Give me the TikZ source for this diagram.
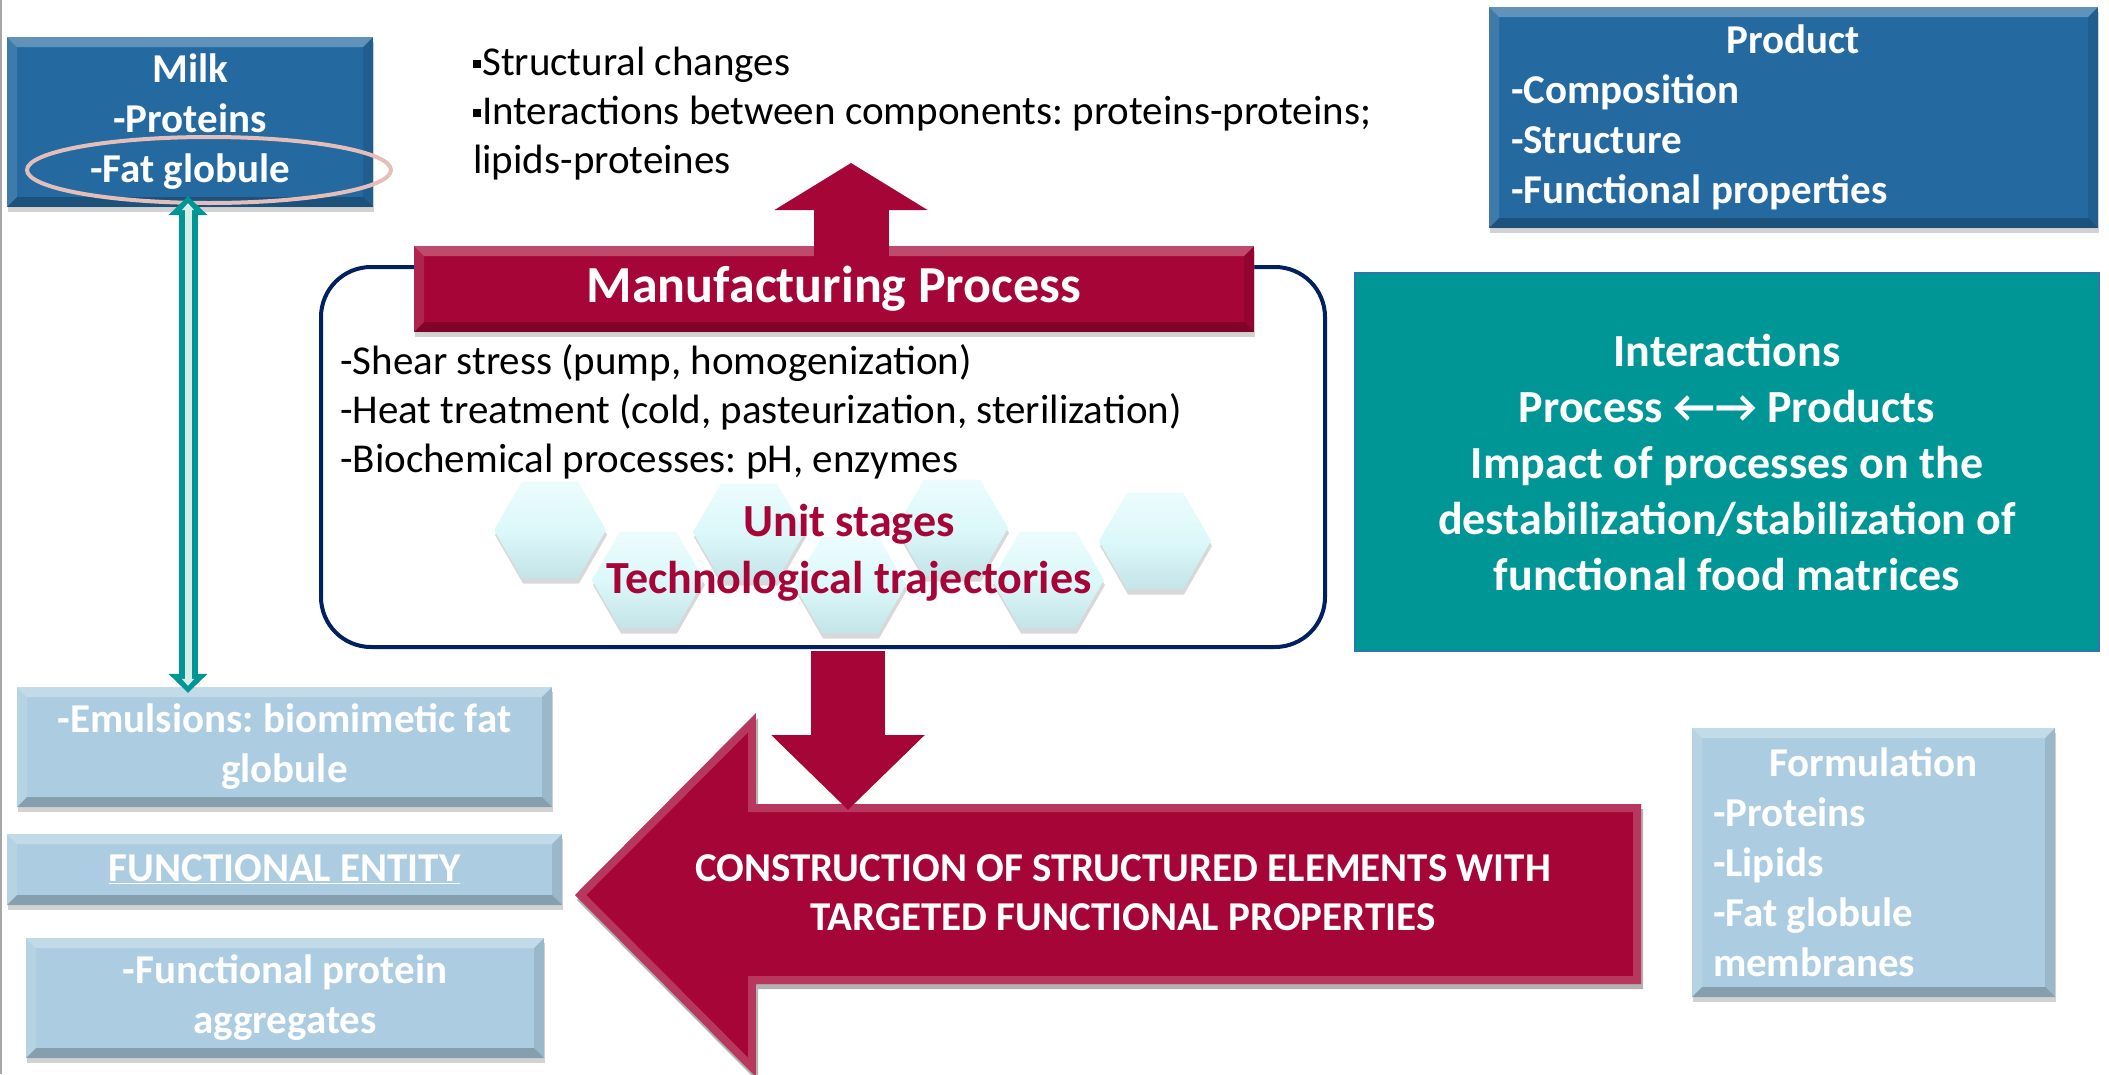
\documentclass[tikz,border=0pt]{standalone}
\usepackage{fontspec}
\setmainfont{Carlito}
\frenchspacing
\usetikzlibrary{shapes.geometric,shadows,arrows.meta,calc}
\definecolor{dblue}{RGB}{36,105,160}
\definecolor{lblue}{RGB}{172,205,225}
\definecolor{teal1}{RGB}{0,150,150}
\definecolor{tealbd}{RGB}{40,120,170}
\definecolor{crim}{RGB}{165,5,55}
\definecolor{hexTop}{RGB}{236,252,253}
\definecolor{hexMid}{RGB}{220,248,250}
\definecolor{hexBot}{RGB}{196,228,232}
\definecolor{navy}{RGB}{0,32,96}
\definecolor{ringc}{RGB}{228,190,185}
\definecolor{dlight}{RGB}{215,238,232}
\newcommand{\fs}[2]{\fontsize{#1}{#2}\selectfont}
\newcommand{\sqbul}{\raisebox{8pt}{\rule{8pt}{8pt}}\hspace{1pt}}
\tikzset{
  bevelbox/.style={inner sep=0pt,
    drop shadow={shadow xshift=1pt, shadow yshift=-5pt, opacity=0.35},
    path picture={
      \fill[white,opacity=0.28] (path picture bounding box.north west) -- (path picture bounding box.north east) -- ([shift={(-10pt,-10pt)}]path picture bounding box.north east) -- ([shift={(10pt,-10pt)}]path picture bounding box.north west) -- cycle;
      \fill[white,opacity=0.12] (path picture bounding box.north west) -- ([shift={(10pt,-10pt)}]path picture bounding box.north west) -- ([shift={(10pt,10pt)}]path picture bounding box.south west) -- (path picture bounding box.south west) -- cycle;
      \fill[black,opacity=0.10] (path picture bounding box.north east) -- ([shift={(-10pt,-10pt)}]path picture bounding box.north east) -- ([shift={(-10pt,10pt)}]path picture bounding box.south east) -- (path picture bounding box.south east) -- cycle;
      \fill[black,opacity=0.22] (path picture bounding box.south west) -- (path picture bounding box.south east) -- ([shift={(-10pt,10pt)}]path picture bounding box.south east) -- ([shift={(10pt,10pt)}]path picture bounding box.south west) -- cycle;
    }},
  bluebox/.style={bevelbox, fill=dblue, text=white, font=\bfseries\fs{41}{50}},
  lightbox/.style={bevelbox, fill=lblue, text=white, font=\bfseries\fs{41}{50}, align=center},
  hexa/.style={regular polygon, regular polygon sides=6, minimum size=112pt, inner sep=0pt,
    top color=hexTop, bottom color=hexBot, middle color=hexMid,
    drop shadow={shadow xshift=1pt, shadow yshift=-5pt, opacity=0.3}},
  plaintext/.style={align=flush left, inner sep=0pt, font=\fs{41}{49}},
}
\begin{document}
\begin{tikzpicture}[x=1pt,y=-1pt]
\useasboundingbox (0,0) rectangle (2109,1074);
\fill[white] (0,0) rectangle (2109,1074);
\draw[gray!70, line width=2pt] (1,0) -- (1,1074);

% top-left milk box
\node[bluebox, minimum width=366pt, minimum height=170pt, align=center] (milk) at (190,122) {Milk\\-Proteins\\-Fat globule};
\node[ellipse, draw=ringc, line width=4pt, minimum width=364pt, minimum height=66pt, inner sep=0pt] (ring) at (209,170) {};

% left boxes
\node[lightbox, minimum width=535pt, minimum height=120pt] (emul) at (284.5,747) {-Emulsions: biomimetic fat\\globule};
\node[lightbox, minimum width=555pt, minimum height=71pt] (fent) at (284.5,869.5) {\underline{FUNCTIONAL ENTITY}};
\node[lightbox, minimum width=518pt, minimum height=120pt] (aggr) at (285,998) {-Functional protein\\aggregates};

% double arrow
\coordinate (dA) at ([xshift=-2pt,yshift=11pt]milk.south);
\coordinate (dB) at ([yshift=-6pt]emul.north -| dA);
\draw[teal1, line width=19pt, {Triangle[width=38pt,length=19pt]}-{Triangle[width=38pt,length=19pt]}] (dA) -- (dB);
\draw[dlight, line width=7pt, {Triangle[width=12pt,length=7pt]}-{Triangle[width=12pt,length=7pt]}] ([yshift=-7pt]dA) -- ([yshift=7pt]dB);

% product box
\node[bluebox, minimum width=609pt, minimum height=221pt, text width=565pt, align=flush left] (prod) at (1793.5,117.5) {\makebox[565pt]{Product}\\-Composition\\-Structure\\-Functional properties};

% formulation box
\node[lightbox, minimum width=363pt, minimum height=269pt, text width=321pt, align=flush left] (form) at (1873.5,862.5) {\makebox[321pt]{Formulation}\\-Proteins\\-Lipids\\-Fat globule\\membranes};

% teal box
\node[fill=teal1, draw=tealbd, line width=1.5pt, minimum width=744pt, minimum height=378pt, text=white, font=\bfseries\fs{46}{56}, align=center] (inter) at (1727,462) {Interactions\\Process ←→ Products\\Impact of processes on the\\destabilization/stabilization of\\functional food matrices};

% top text
\node[plaintext, anchor=west] (top) at (473,114) {\sqbul Structural changes\\\sqbul Interactions between components: proteins-proteins;\\lipids-proteines};

% process box
\node[draw=navy, line width=4pt, rounded corners=50pt, minimum width=1004pt, minimum height=380pt] (proc) at (823,457) {};
\node[bevelbox, fill=crim, minimum width=840pt, minimum height=86pt, text=white, font=\bfseries\fs{52}{60}] (banner) at (834,289) {Manufacturing Process};
\node[plaintext, anchor=west] (body) at (340,412) {-Shear stress (pump, homogenization)\\-Heat treatment (cold, pasteurization, sterilization)\\-Biochemical processes: pH, enzymes};

% hexagons
\node[hexa] (h1) at (550,530) {};
\node[hexa] (h3) at (749,532) {};
\node[hexa] (h5) at (952,528) {};
\node[hexa] (h7) at (1155,541) {};
\node[hexa] (h2) at (648,580) {};
\node[hexa] (h4) at (850,585) {};
\node[hexa] (h6) at (1048,580) {};
\node[text=crim, font=\bfseries\fs{46}{57}, align=center, inner sep=0pt] (unit) at (849,553) {Unit stages\\Technological trajectories};

% up arrow
\coordinate (uptip) at (851,163);
\draw[crim, line width=75pt, -{Triangle[width=151pt,length=47pt]}] ([yshift=-12pt]banner.north -| uptip) -- (uptip);

% big left arrow
\coordinate (bigtip) at (575,895);
\fill[black, opacity=0.3] ([shift={(2pt,-5pt)}]bigtip) -- (758,718) -- (758,809) -- (1643,809) -- (1643,989) -- (758,989) -- (758,1082) -- cycle;
\begin{scope}
\clip (bigtip) -- (756,713) -- (756,804) -- (1641,804) -- (1641,984) -- (756,984) -- (756,1077) -- cycle;
\fill[crim] (bigtip) -- (756,713) -- (756,804) -- (1641,804) -- (1641,984) -- (756,984) -- (756,1077) -- cycle;
\draw[white, opacity=0.2, line width=16pt] (bigtip) -- (756,713) -- (756,804) -- (1641,804) -- (1641,984) -- (756,984) -- (756,1077) -- cycle;
\end{scope}
\node[text=white, font=\bfseries\fs{41}{49}, align=center, inner sep=0pt] (constr) at (1123,893) {CONSTRUCTION OF STRUCTURED ELEMENTS WITH\\TARGETED FUNCTIONAL PROPERTIES};

% down arrow
\coordinate (dntip) at (848,810);
\draw[crim, line width=74pt, -{Triangle[width=149pt,length=75pt]}] ([yshift=-2pt]proc.south -| dntip) -- (dntip);
\end{tikzpicture}
\end{document}
